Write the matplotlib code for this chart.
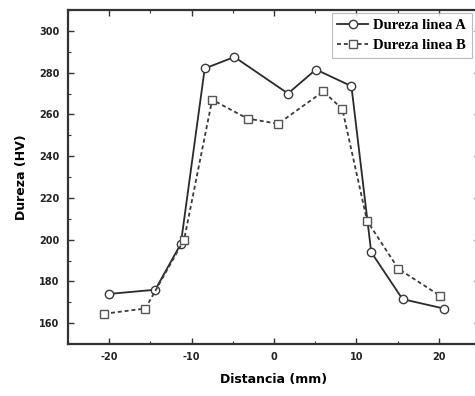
import matplotlib.pyplot as plt
from matplotlib.ticker import MultipleLocator

plt.rcParams['axes.unicode_minus'] = False

# datos
dist_A = [-20.0, -14.4, -11.3, -8.4, -4.8, 1.7, 5.1, 9.4, 11.8, 15.6, 20.6]
dureza_A = [174, 176, 198, 282, 287.5, 270, 281.5, 273.5, 194, 171.5, 167]

dist_B = [-20.6, -15.6, -10.9, -7.5, -3.2, 0.5, 6.0, 8.3, 11.3, 15.1, 20.2]
dureza_B = [164.5, 167, 200, 267, 258, 255.5, 271, 262.5, 209, 186, 173]

fig = plt.figure(figsize=(4.75, 3.96), dpi=100)
ax = fig.add_axes([0.143, 0.1313, 0.8675, 0.8434])

ax.plot(dist_A, dureza_A, color='#2a2a2a', lw=1.3, marker='o', ms=6,
        mfc='white', mec='#3a3a3a', mew=1.0, label='Dureza linea A')
ax.plot(dist_B, dureza_B, color='#3a3a3a', lw=1.3, ls=(0, (2.2, 1.6)), marker='s', ms=6,
        mfc='white', mec='#555555', mew=1.0, label='Dureza linea B')

ax.set_xlim(-25, 25)
ax.set_ylim(150, 310)
ax.xaxis.set_major_locator(MultipleLocator(10))
ax.xaxis.set_minor_locator(MultipleLocator(5))
ax.yaxis.set_minor_locator(MultipleLocator(10))
ax.set_yticks([160, 180, 200, 220, 240, 260, 280, 300])

ax.tick_params(which='both', direction='in', top=True, right=True, color='#333333')
ax.tick_params(which='major', length=4, width=1.0, labelsize=7, pad=6)
ax.tick_params(which='minor', length=2.5, width=0.8)
for lab in ax.get_xticklabels() + ax.get_yticklabels():
    lab.set_fontweight('bold')
    lab.set_color('#222222')

for sp in ax.spines.values():
    sp.set_linewidth(1.6)
    sp.set_color('#333333')

ax.set_xlabel('Distancia (mm)', fontsize=9, fontweight='bold', labelpad=8)
ax.set_ylabel('Dureza (HV)', fontsize=9, fontweight='bold', labelpad=8)

leg = ax.legend(loc='upper left', bbox_to_anchor=(0.64, 0.99), frameon=True,
                fancybox=False, prop={'family': 'Liberation Serif', 'weight': 'bold', 'size': 10.5},
                handlelength=2.1, handletextpad=0.35, borderpad=0.4, labelspacing=0.45,
                borderaxespad=0)
leg.get_frame().set_edgecolor('#aaaaaa')
leg.get_frame().set_linewidth(0.8)

fig.savefig('out.png', dpi=100)
